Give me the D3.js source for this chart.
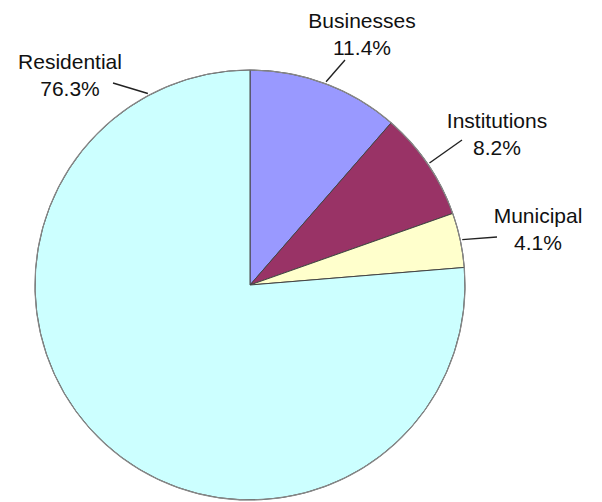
<!DOCTYPE html>
<html>
<head>
<meta charset="utf-8">
<script src="https://cdn.jsdelivr.net/npm/d3@7"></script>
<style>
  body { margin: 0; background: #fff; }
  svg { display: block; }
</style>
</head>
<body>
<div id="chart"></div>
<script>
// data
var categories = ["Businesses", "Institutions", "Municipal", "Residential"];
var shares = [11.4, 8.2, 4.1, 76.3];
var colors = ["#9999ff", "#993366", "#ffffcc", "#ccffff"];

// label placement (text centre x, first baseline y, leader end x, y)
var labelPos = [
    { x: 362, y: 28, lx: 345, ly: 60 },
    { x: 497, y: 128, lx: 462, ly: 140 },
    { x: 538, y: 223, lx: 497, ly: 237 },
    { x: 70, y: 69, lx: 113, ly: 83 }
];

var width = 602,
    height = 502,
    cx = 250,
    cy = 285,
    radius = 215;

var svg = d3.select("#chart")
  .append("svg")
    .attr("width", width)
    .attr("height", height);

var g = svg.append("g")
    .attr("transform", "translate(" + cx + "," + cy + ")");

var data = categories.map(function(c, i) {
    return { name: c, value: shares[i], color: colors[i], pos: labelPos[i] };
});

var pie = d3.pie()
    .sort(null)
    .value(function(d) { return d.value; });
var slices = pie(data);

var arc = d3.arc()
    .innerRadius(0)
    .outerRadius(radius);

g.selectAll("path.slice")
  .data(slices)
  .enter()
  .append("path")
    .attr("class", "slice")
    .attr("d", arc)
    .attr("fill", function(d) { return d.data.color; })
    .attr("stroke", "#444")
    .attr("stroke-width", 1);

// outer rim is a lighter grey
g.append("circle")
    .attr("r", radius)
    .attr("fill", "none")
    .attr("stroke", "#888")
    .attr("stroke-width", 1.2);

// leader lines: from the rim at the slice middle, Residential goes up-left instead
function leaderAngle(d) {
    if (d.data.name === "Residential") return 2 * Math.PI - 0.49;
    return (d.startAngle + d.endAngle) / 2;
}

svg.selectAll("line.leader")
  .data(slices)
  .enter()
  .append("line")
    .attr("class", "leader")
    .attr("x1", function(d) { return cx + (radius + 2) * Math.sin(leaderAngle(d)); })
    .attr("y1", function(d) { return cy - (radius + 2) * Math.cos(leaderAngle(d)); })
    .attr("x2", function(d) { return d.data.pos.lx; })
    .attr("y2", function(d) { return d.data.pos.ly; })
    .attr("stroke", "#222")
    .attr("stroke-width", 1.4);

var labels = svg.selectAll("text.label")
  .data(slices)
  .enter()
  .append("text")
    .attr("class", "label")
    .attr("text-anchor", "middle")
    .style("font-family", "'Liberation Sans', Arial, sans-serif")
    .style("font-size", "21px")
    .attr("fill", "#111");

labels.append("tspan")
    .attr("x", function(d) { return d.data.pos.x; })
    .attr("y", function(d) { return d.data.pos.y; })
    .text(function(d) { return d.data.name; });

labels.append("tspan")
    .attr("x", function(d) { return d.data.pos.x; })
    .attr("y", function(d) { return d.data.pos.y + 27; })
    .text(function(d) { return d.data.value.toFixed(1) + "%"; });
</script>
</body>
</html>
